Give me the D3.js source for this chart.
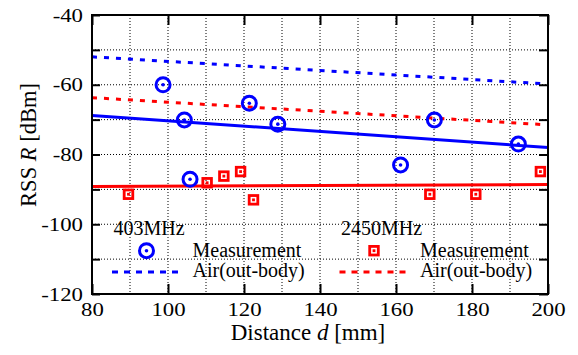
<!DOCTYPE html>
<html>
<head>
<meta charset="utf-8">
<script src="https://cdn.jsdelivr.net/npm/d3@7"></script>
<style>
  body { margin: 0; background: #fff; }
</style>
</head>
<body>
<div id="chart"></div>
<script>
// measured points, 403 MHz
var dist403 = [98.7, 104.3, 105.8, 121.4, 128.9, 161.2, 170.1, 192.2];
var rss403 = [-60, -70.1, -87.1, -65.3, -71.3, -83, -70.1, -77];
// measured points, 2450 MHz
var dist2450 = [89.6, 110.3, 114.7, 119.1, 122.5, 168.9, 181, 198];
var rss2450 = [-91.4, -88.1, -86.2, -84.9, -93, -91.4, -91.4, -84.9];

// straight lines (ends at d = 80 and d = 200)
var lineDist = [80, 200];
var fit403 = [-68.8, -78.0];
var air403 = [-52.0, -59.8];
var fit2450 = [-89.2, -88.6];
var air2450 = [-63.7, -71.5];

var xTicks = [80, 100, 120, 140, 160, 180, 200];
var yTicks = [-120, -110, -100, -90, -80, -70, -60, -50, -40];
var xGrid = d3.range(80, 201, 10);

var blue = "#0000ff", red = "#ff0000";
var serif = "'Liberation Serif', 'Times New Roman', serif";

var margin = {top: 15, right: 30, bottom: 61, left: 92},
    width = 578 - margin.left - margin.right,
    height = 355 - margin.top - margin.bottom;

var svg = d3.select("#chart").append("svg")
    .attr("width", 578)
    .attr("height", 355)
    .style("font-family", serif);

var g = svg.append("g")
    .attr("transform", "translate(" + margin.left + "," + margin.top + ")");

var x = d3.scaleLinear().domain([80, 200]).range([0, width]);
var y = d3.scaleLinear().domain([-120, -40]).range([height, 0]);

// dotted grid
g.selectAll(".vgrid").data(xGrid.slice(1, -1)).enter().append("line")
    .attr("x1", function(d) { return x(d); })
    .attr("x2", function(d) { return x(d); })
    .attr("y1", 0).attr("y2", height)
    .attr("stroke", "#000").attr("stroke-width", 1).attr("stroke-dasharray", "1,2");
g.selectAll(".hgrid").data(yTicks.slice(1, -1)).enter().append("line")
    .attr("y1", function(d) { return y(d); })
    .attr("y2", function(d) { return y(d); })
    .attr("x1", 0).attr("x2", width)
    .attr("stroke", "#000").attr("stroke-width", 1).attr("stroke-dasharray", "1,2");

// lines
var line = d3.line()
    .x(function(d) { return x(d[0]); })
    .y(function(d) { return y(d[1]); });

function addLine(vals, color, dashed) {
    g.append("path")
        .datum(d3.zip(lineDist, vals))
        .attr("d", line)
        .attr("fill", "none")
        .attr("stroke", color)
        .attr("stroke-width", 3)
        .attr("stroke-dasharray", dashed ? "5,7" : null);
}
addLine(air403, blue, true);
addLine(air2450, red, true);
addLine(fit403, blue, false);
addLine(fit2450, red, false);

// markers
function circleMark(sel, cx, cy) {
    sel.append("circle").attr("cx", cx).attr("cy", cy).attr("r", 7)
        .attr("fill", "none").attr("stroke", blue).attr("stroke-width", 3);
    sel.append("circle").attr("cx", cx).attr("cy", cy).attr("r", 1.8).attr("fill", blue);
}
function squareMark(sel, cx, cy) {
    sel.append("rect").attr("x", cx - 4.3).attr("y", cy - 4.3).attr("width", 8.6).attr("height", 8.6)
        .attr("fill", "none").attr("stroke", red).attr("stroke-width", 2.8);
    sel.append("rect").attr("x", cx - 1.4).attr("y", cy - 1.4).attr("width", 2.8).attr("height", 2.8).attr("fill", red);
}

d3.zip(dist2450, rss2450).forEach(function(d) { squareMark(g, x(d[0]), y(d[1])); });
d3.zip(dist403, rss403).forEach(function(d) { circleMark(g, x(d[0]), y(d[1])); });

// axes with inward ticks
g.append("g")
    .attr("transform", "translate(0," + height + ")")
    .call(d3.axisBottom(x).tickValues(xTicks).tickSizeInner(-10).tickSizeOuter(0).tickPadding(9)
        .tickFormat(d3.format("d")));
g.append("g")
    .call(d3.axisTop(x).tickValues(xTicks).tickSizeInner(-10).tickSizeOuter(0).tickFormat(""));
g.append("g")
    .call(d3.axisLeft(y).tickValues(yTicks).tickSizeInner(-8).tickSizeOuter(0).tickPadding(7.5)
        .tickFormat(function(d) { return d % 20 === 0 ? "-" + Math.abs(d) : ""; }));
g.append("g")
    .attr("transform", "translate(" + width + ",0)")
    .call(d3.axisRight(y).tickValues(yTicks).tickSizeInner(-9).tickSizeOuter(0).tickFormat(""));

g.selectAll(".domain").remove();
g.selectAll(".tick line").attr("stroke", "#000").attr("stroke-width", 2);
g.selectAll(".tick text")
    .style("font-family", serif)
    .style("font-size", "19px")
    .attr("fill", "#000")
    .attr("transform", "scale(1.2,1)");

// frame
g.append("rect")
    .attr("width", width).attr("height", height)
    .attr("fill", "none").attr("stroke", "#000").attr("stroke-width", 2);

// axis titles
var xt = svg.append("text")
    .attr("x", 308).attr("y", 340)
    .attr("text-anchor", "middle")
    .style("font-family", serif)
    .style("font-size", "23px");
xt.append("tspan").text("Distance ");
xt.append("tspan").attr("font-style", "italic").text("d");
xt.append("tspan").text(" [mm]");

var yt = svg.append("text")
    .attr("transform", "translate(36,145) rotate(-90)")
    .attr("text-anchor", "middle")
    .style("font-family", serif)
    .style("font-size", "22.5px");
yt.append("tspan").text("RSS ");
yt.append("tspan").attr("font-style", "italic").text("R");
yt.append("tspan").text(" [dBm]");

// legend
var leg = svg.append("g").style("font-family", serif).style("font-size", "20px");
function legendBlock(x0, title, color, mark) {
    leg.append("text").attr("x", x0 + 2).attr("y", 235).text(title);
    mark(leg, x0 + 35, 250.7);
    leg.append("text").attr("x", x0 + 81).attr("y", 256.7).text("Measurement");
    leg.append("line")
        .attr("x1", x0 + 0.5).attr("x2", x0 + 69)
        .attr("y1", 272).attr("y2", 272)
        .attr("stroke", color).attr("stroke-width", 3).attr("stroke-dasharray", "6,6");
    leg.append("text").attr("x", x0 + 81).attr("y", 276.5).text("Air(out-body)");
}
legendBlock(111.5, "403MHz", blue, circleMark);
legendBlock(339, "2450MHz", red, squareMark);
</script>
</body>
</html>
